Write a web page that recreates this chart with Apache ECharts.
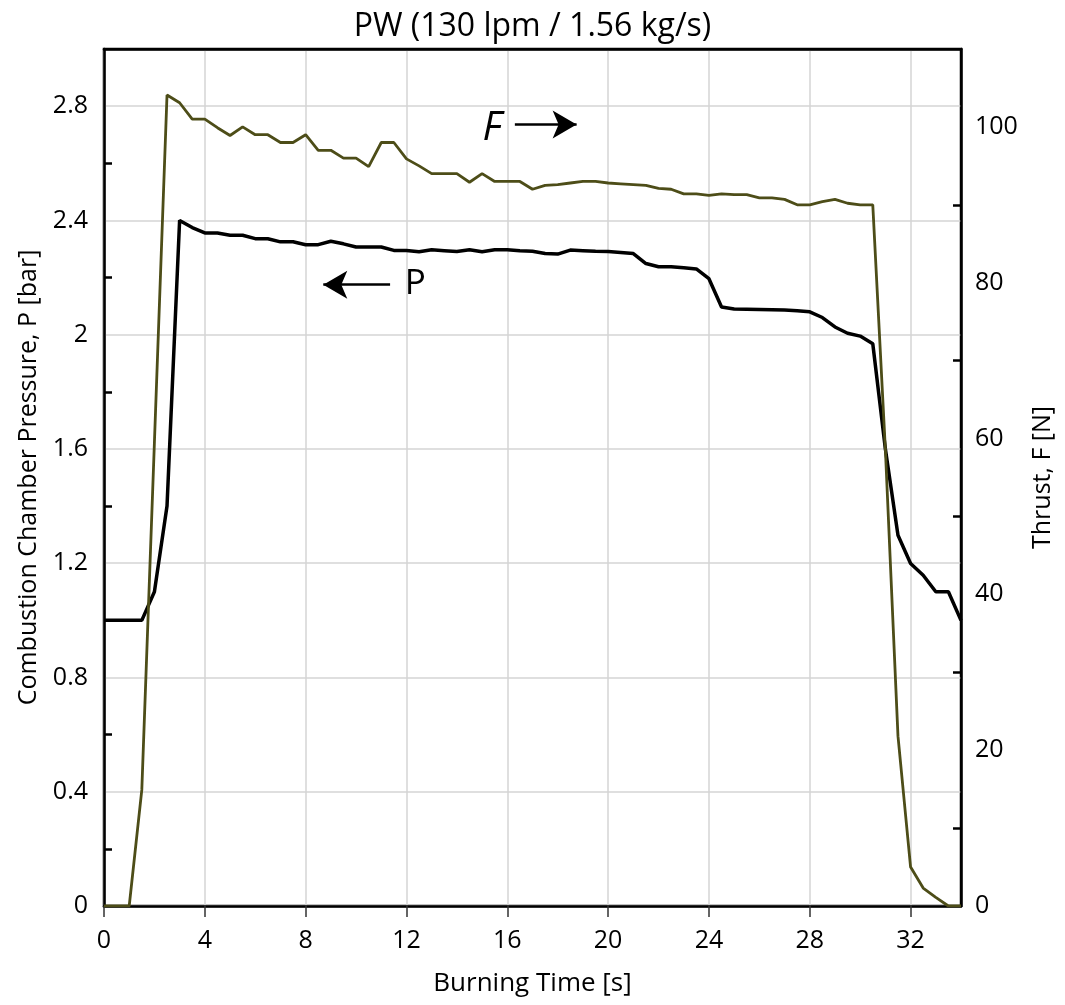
<!DOCTYPE html>
<html>
<head>
<meta charset="utf-8">
<script src="https://cdn.jsdelivr.net/npm/echarts@6/dist/echarts.min.js"></script>
<style>
html,body{margin:0;padding:0;background:#fff;}
#chart{width:1065px;height:1005px;}
</style>
</head>
<body>
<div id="chart"></div>
<script>
// ---- data ----
const timeSeconds = [0,0.5,1,1.5,2,2.5,3,3.5,4,4.5,5,5.5,6,6.5,7,7.5,8,8.5,9,9.5,10,10.5,11,11.5,12,12.5,13,13.5,14,14.5,15,15.5,16,16.5,17,17.5,18,18.5,19,19.5,20,20.5,21,21.5,22,22.5,23,23.5,24,24.5,25,25.5,26,26.5,27,27.5,28,28.5,29,29.5,30,30.5,31,31.5,32,32.5,33,33.5,34];
const pressureBar = [1.00,1.00,1.00,1.00,1.10,1.40,2.40,2.375,2.356,2.356,2.348,2.348,2.336,2.336,2.325,2.325,2.315,2.315,2.327,2.318,2.307,2.307,2.307,2.295,2.295,2.29,2.297,2.294,2.291,2.297,2.29,2.297,2.297,2.294,2.292,2.284,2.282,2.296,2.294,2.292,2.291,2.288,2.284,2.249,2.238,2.238,2.234,2.23,2.196,2.097,2.09,2.089,2.088,2.087,2.086,2.084,2.08,2.06,2.027,2.005,1.995,1.968,1.60,1.298,1.199,1.158,1.10,1.10,1.00];
const thrustN = [0,0,0,14.9,59.5,104.1,103.1,101.0,101.0,99.9,98.9,100.0,99.0,99.0,98.0,98.0,99.0,97.0,97.0,96.0,96.0,94.9,98.0,98.0,95.9,95.0,94.0,94.0,94.0,92.9,94.0,93.0,93.0,93.0,92.0,92.5,92.6,92.8,93.0,93.0,92.8,92.7,92.6,92.5,92.1,92.0,91.4,91.4,91.2,91.4,91.3,91.3,90.9,90.9,90.7,90.0,90.0,90.4,90.7,90.2,90.0,90.0,58.6,21.8,5.0,2.3,1.1,0,0];

const timeTicks = [0,4,8,12,16,20,24,28,32];
const pressureTicks = [0,0.4,0.8,1.2,1.6,2,2.4,2.8];
const pressureMinorTicks = [0.2,0.6,1.0,1.4,1.8,2.2,2.6];
const thrustTicks = [0,20,40,60,80,100];
const thrustMinorTicks = [10,30,50,70,90];

const titleText = 'PW (130 lpm / 1.56 kg/s)';
const xName = 'Burning Time [s]';
const pName = 'Combustion Chamber Pressure, P [bar]';
const fName = 'Thrust, F [N]';

// ---- build ----
const FONT = '"Open Sans", "Noto Sans", sans-serif';
const pData = timeSeconds.map((t, i) => [t, pressureBar[i]]);
const fData = timeSeconds.map((t, i) => [t, thrustN[i]]);

const chart = echarts.init(document.getElementById('chart'), null, {renderer: 'canvas'});
const axisLineStyle = {color: '#000', width: 2.5};
const labelStyle = {color: '#000', fontFamily: FONT, fontSize: 25};

chart.setOption({
  animation: false,
  backgroundColor: '#fff',
  title: {
    text: titleText, left: 'center', top: 6,
    textStyle: {fontFamily: FONT, fontSize: 32, fontWeight: 'normal', color: '#000'}
  },
  grid: {left: 104, right: 104, top: 49, bottom: 99, show: true, borderColor: '#000', borderWidth: 2.5, backgroundColor: 'transparent'},
  xAxis: [
    {
      type: 'value', min: 0, max: 34, interval: 4, position: 'bottom',
      name: xName, nameLocation: 'middle', nameGap: 65,
      nameTextStyle: {fontFamily: FONT, fontSize: 26, color: '#000'},
      axisLine: {show: true, onZero: false, lineStyle: axisLineStyle},
      axisTick: {show: true, inside: false, length: 11, customValues: timeTicks, lineStyle: {color: '#333', width: 1.5}},
      axisLabel: Object.assign({margin: 22, customValues: timeTicks}, labelStyle),
      splitLine: {show: true, lineStyle: {color: '#d4d4d4', width: 1.5}}
    },
    {
      type: 'value', min: 0, max: 34, position: 'top',
      axisLine: {show: true, onZero: false, lineStyle: axisLineStyle},
      axisTick: {show: false}, axisLabel: {show: false}, splitLine: {show: false}
    }
  ],
  yAxis: [
    {
      type: 'value', min: 0, max: 3, interval: 0.4, position: 'left',
      name: pName, nameLocation: 'middle', nameGap: 63, nameRotate: 90,
      nameTextStyle: {fontFamily: FONT, fontSize: 25, color: '#000'},
      axisLine: {show: true, onZero: false, lineStyle: axisLineStyle},
      axisTick: {show: false},
      axisLabel: Object.assign({margin: 16, customValues: pressureTicks, formatter: v => String(v)}, labelStyle),
      splitLine: {show: true, showMaxLine: false, lineStyle: {color: '#d4d4d4', width: 1.5}}
    },
    {
      type: 'value', min: 0, max: 110, interval: 10, position: 'right',
      name: fName, nameLocation: 'middle', nameGap: 69, nameRotate: 90,
      nameTextStyle: {fontFamily: FONT, fontSize: 25, color: '#000'},
      axisLine: {show: true, onZero: false, lineStyle: axisLineStyle},
      axisTick: {show: true, inside: true, length: 8, customValues: thrustMinorTicks, lineStyle: {color: '#000', width: 2.5}},
      axisLabel: Object.assign({margin: 14, customValues: thrustTicks}, labelStyle),
      splitLine: {show: false}
    },
    {
      type: 'value', min: 0, max: 3, position: 'left',
      axisLine: {show: false},
      axisTick: {show: true, inside: true, length: 8, customValues: pressureMinorTicks, lineStyle: {color: '#000', width: 2.5}},
      axisLabel: {show: false},
      splitLine: {show: false}
    }
  ],
  series: [
    {
      name: 'P', type: 'line', yAxisIndex: 0, data: pData,
      showSymbol: false, symbol: 'none',
      lineStyle: {color: '#000', width: 3.5},
      z: 3,
      markLine: {
        silent: true, symbol: ['none', 'arrow'], symbolSize: [21, 24],
        label: {show: false},
        lineStyle: {color: '#000', width: 2.5, type: 'solid'},
        data: [[{coord: [11.35, 2.175]}, {coord: [8.7, 2.175]}]]
      },
      markPoint: {
        silent: true, symbol: 'circle', symbolSize: 0,
        label: {show: true, formatter: 'P', fontFamily: FONT, fontSize: 35, color: '#000'},
        data: [{coord: [12.35, 2.178]}]
      }
    },
    {
      name: 'F', type: 'line', yAxisIndex: 1, data: fData,
      showSymbol: false, symbol: 'none',
      lineStyle: {color: '#4d4d18', width: 2.8},
      z: 4,
      markLine: {
        silent: true, symbol: ['none', 'arrow'], symbolSize: [21, 24],
        label: {show: false},
        lineStyle: {color: '#000', width: 2.5, type: 'solid'},
        data: [[{coord: [16.3, 100.3]}, {coord: [18.75, 100.3]}]]
      },
      markPoint: {
        silent: true, symbol: 'circle', symbolSize: 0,
        label: {show: true, formatter: 'F', fontFamily: FONT, fontSize: 40, fontStyle: 'italic', color: '#000'},
        data: [{coord: [15.4, 99.8]}]
      }
    }
  ]
});
</script>
</body>
</html>
